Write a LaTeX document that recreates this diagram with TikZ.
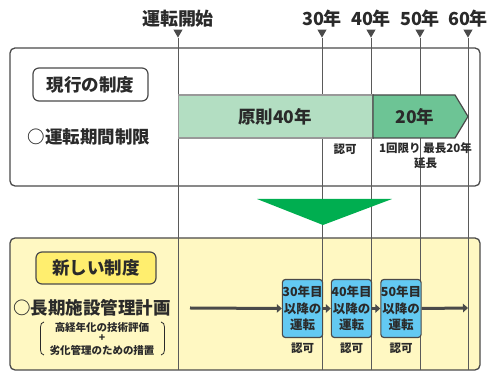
\documentclass[tikz,border=0pt]{standalone}
\usepackage{fontspec}
\setmainfont{Noto Sans CJK JP}
\usetikzlibrary{shapes.geometric,arrows.meta}
\definecolor{linegray}{HTML}{4A4A4A}
\definecolor{vgray}{HTML}{5A5A5A}
\definecolor{txt}{HTML}{2A2A2A}
\definecolor{lightgreen}{HTML}{B3DEC2}
\definecolor{midgreen}{HTML}{6DC495}
\definecolor{biggreen}{HTML}{00AE50}
\definecolor{yellowbg}{HTML}{FFF8C2}
\definecolor{yellowtag}{HTML}{FFEE6E}
\definecolor{bluebox}{HTML}{63C9F2}
\tikzset{
  panel/.style={draw=linegray, line width=1.3pt, rounded corners=5pt},
  tagbox/.style={draw=linegray, line width=1.2pt, rounded corners=6pt, inner sep=0pt, text=txt, font=\fontsize{17.5}{20}\selectfont\bfseries},
  yearlbl/.style={text=txt, inner sep=0pt, font=\fontsize{18}{20}\selectfont\bfseries},
  marker/.style={regular polygon, regular polygon sides=3, shape border rotate=180, fill=linegray, inner sep=0pt, minimum size=10.5pt, anchor=corner 1},
  vline/.style={draw=vgray, line width=0.8pt},
  big/.style={text=txt, inner sep=0pt, font=\fontsize{17.5}{20}\selectfont\bfseries},
  small/.style={text=txt, inner sep=0pt, align=center, font=\fontsize{11.5}{15}\selectfont\bfseries},
  tiny/.style={text=txt, inner sep=0pt, align=center, font=\fontsize{10.5}{12}\selectfont\bfseries},
  permit/.style={draw=linegray, line width=1.2pt, fill=bluebox, rounded corners=3pt, minimum width=38pt, minimum height=58pt, inner sep=0pt, align=center, text=txt, font=\fontsize{12.5}{16.5}\selectfont\bfseries},
  flow/.style={draw=linegray, line width=3pt, -{Triangle[length=5pt,width=8.5pt]}},
}
\begin{document}
\begin{tikzpicture}[x=1pt,y=-1pt]
\useasboundingbox (0,0) rectangle (491,371);
% panels
\draw[panel, fill=white] (10,48) rectangle (480,186);
\draw[panel, fill=yellowbg] (10,238) rectangle (480,370);
% year labels and markers
\node[yearlbl] (t0) at (178,19) {運転開始};
\node[yearlbl] (t30) at (322,19) {30年};
\node[yearlbl] (t40) at (371,19) {40年};
\node[yearlbl] (t50) at (420,19) {50年};
\node[yearlbl] (t60) at (468,19) {60年};
\node[marker] (m0) at (178,38) {};
\node[marker] (m30) at (322,38) {};
\node[marker] (m40) at (371,38) {};
\node[marker] (m50) at (420,38) {};
\node[marker] (m60) at (468,38) {};
\coordinate (e0) at (178,370);
\coordinate (e30) at (322,370);
\coordinate (e40) at (371,370);
\coordinate (e50) at (420,370);
\coordinate (e60) at (468,370);
\draw[vline] (m0.corner 1) -- (e0);
\draw[vline] (m30.corner 1) -- (e30);
\draw[vline] (m40.corner 1) -- (e40);
\draw[vline] (m50.corner 1) -- (e50);
\draw[vline] (m60.corner 1) -- (e60);
% current system
\node[tagbox, fill=white, minimum width=115pt, minimum height=33pt] (cur) at (90.5,84.5) {現行の制度};
\node[big] (limit) at (89,137) {○運転期間制限};
\draw[draw=gray!80, line width=1.2pt, fill=lightgreen] (178.5,95) rectangle (373,138);
\node[big] (p40) at (275,116.5) {原則40年};
\draw[draw=linegray, line width=1.2pt, fill=midgreen] (373,95) -- (455,95) -- (468,116.5) -- (455,138) -- (373,138) -- cycle;
\node[big] (p20) at (415,116.5) {20年};
\node[small] (ninka0) at (345,149) {認可};
\node[small, anchor=north] (ext) at (425.5,142) {1回限り 最長20年\\延長};
% big arrow
\fill[biggreen] (257,199) -- (392,199) -- (323,225) -- cycle;
% new system
\node[tagbox, fill=yellowtag, minimum width=120pt, minimum height=32pt] (new) at (96,268) {新しい制度};
\node[big] (plan) at (92,308) {○長期施設管理計画};
\node[tiny] (eval) at (102,327) {高経年化の技術評価};
\node[tiny] (plus) at (102,338.5) {+};
\node[tiny] (meas) at (102,350) {劣化管理のための措置};
\draw[txt, line width=0.8pt] (44,322) to[out=180,in=90] (40.5,327) -- (40.5,350) to[out=-90,in=180] (44,355);
\draw[txt, line width=0.8pt] (161,322) to[out=0,in=90] (164.5,327) -- (164.5,350) to[out=-90,in=0] (161,355);
\node[permit] (k30) at (302.5,308.5) {30年目\\以降の\\運転};
\node[permit] (k40) at (351.5,308.5) {40年目\\以降の\\運転};
\node[permit] (k50) at (401,308.5) {50年目\\以降の\\運転};
\node[small] (n30) at (302.5,348) {認可};
\node[small] (n40) at (351.5,348) {認可};
\node[small] (n50) at (401,348) {認可};
\coordinate (a0) at (190,308);
\coordinate (a1) at (468,308);
\draw[flow] (a0) -- (k30.west);
\draw[flow] (k30.east) -- (k40.west);
\draw[flow] (k40.east) -- (k50.west);
\draw[flow] (k50.east) -- (a1);
\end{tikzpicture}
\end{document}
